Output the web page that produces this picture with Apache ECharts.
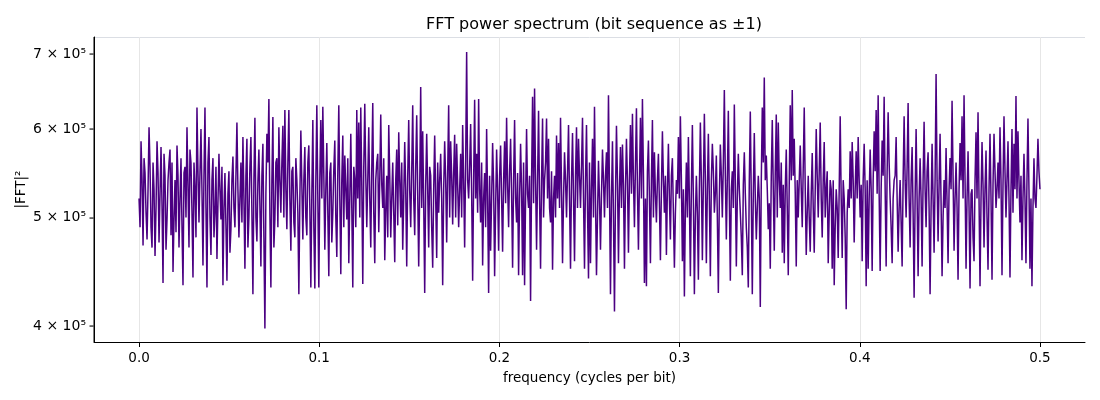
<!DOCTYPE html>
<html>
<head>
<meta charset="utf-8">
<script src="https://cdn.jsdelivr.net/npm/echarts@6/dist/echarts.min.js"></script>
<style>html,body{margin:0;padding:0;background:#fff}#c{width:1100px;height:400px}</style>
</head>
<body>
<div id="c"></div>
<script>
// |FFT|^2 values in thousands, evenly spaced frequencies from 0 to 0.5 cycles/bit
const powerK = [
520,490,585,540,472,565,548,505,478,530,602,555,490,470,560,530,462,510,585,548,
475,525,578,512,437,570,545,468,498,540,560,575,482,560,447,498,540,485,580,545,
470,520,565,490,435,548,555,500,602,535,470,575,560,505,442,560,530,480,627,550,
495,548,600,528,453,545,627,510,433,560,590,500,463,540,565,480,505,555,459,515,
570,528,498,555,435,510,548,492,439,525,550,465,488,540,567,510,490,545,608,530,
480,520,560,495,590,520,450,545,588,470,500,555,590,505,427,540,614,500,476,538,
575,512,452,545,582,480,398,525,594,560,638,505,433,540,615,470,498,560,565,490,
602,540,505,560,604,500,624,530,488,560,624,520,467,550,555,495,480,565,540,505,
427,520,598,535,478,540,578,500,482,560,580,510,433,525,611,490,432,540,630,520,
433,540,611,520,628,545,468,530,583,505,443,548,560,475,505,552,586,500,461,548,
630,520,445,540,592,490,568,530,498,565,455,520,594,510,433,555,540,490,624,520,
608,500,627,535,436,555,632,545,490,540,602,520,470,552,633,505,455,540,560,570,
485,540,618,535,510,565,458,508,545,480,605,545,480,520,560,505,456,540,575,492,
596,540,500,560,468,520,584,530,452,545,611,528,490,550,630,520,482,555,617,525,
452,530,654,510,597,515,428,535,594,530,470,555,545,490,451,530,592,520,460,560,
505,540,570,520,435,530,585,540,475,548,630,500,585,545,493,548,593,500,582,535,
490,530,570,500,605,540,470,560,703,540,520,555,606,525,439,540,637,520,570,505,
638,530,495,560,453,520,548,490,600,520,428,545,467,520,583,535,443,510,575,528,
467,545,580,520,466,540,585,515,614,535,490,550,588,525,451,540,611,520,495,548,
444,520,582,530,444,560,435,520,600,525,510,545,421,540,641,515,652,540,468,540,
623,520,450,540,613,500,540,560,613,520,588,510,495,550,449,520,545,500,592,520,
583,510,614,530,455,520,572,540,500,548,605,520,450,540,595,520,457,545,602,510,
588,545,510,555,614,520,450,540,605,510,441,560,455,530,588,500,628,520,444,500,
562,520,468,525,575,540,500,545,572,510,643,530,427,520,585,500,412,520,604,540,
455,530,578,510,581,535,450,530,588,540,465,540,605,525,619,540,490,555,626,530,
468,540,614,520,638,545,437,520,434,550,586,520,455,540,611,500,572,525,495,540,
570,515,458,530,597,540,505,545,463,530,582,520,478,545,565,505,451,505,540,525,
590,520,616,540,457,530,425,510,560,500,590,520,443,530,605,520,427,500,545,505,
440,530,608,540,458,535,619,540,455,530,594,520,443,540,582,550,505,525,568,500,
428,520,581,545,500,560,650,545,478,540,623,520,439,530,550,510,631,540,452,520,
570,530,505,480,444,535,572,525,490,470,433,540,622,520,427,525,595,520,478,510,
545,520,416,540,627,560,667,540,568,530,488,515,450,545,611,530,467,550,618,500,
608,540,510,560,465,535,455,530,575,510,444,540,630,540,650,545,588,525,452,540,
500,540,580,530,490,555,627,530,463,505,545,500,466,525,571,510,465,530,600,545,
500,550,608,520,480,540,584,500,530,550,455,505,540,530,450,540,435,490,530,510,
460,530,616,520,460,540,520,480,414,505,530,510,573,520,584,540,475,530,573,520,
590,540,500,535,457,540,582,530,434,540,450,520,575,530,448,540,597,550,624,525,
643,525,448,530,586,545,641,530,452,550,621,560,520,490,455,520,540,545,590,520,
466,510,540,495,452,540,616,540,500,555,633,520,470,540,578,505,424,520,600,520,
443,520,565,520,452,540,609,530,490,550,572,510,427,510,582,520,465,540,672,540,
476,535,594,515,443,500,540,510,577,515,455,530,565,530,636,545,467,520,560,510,
440,530,583,540,616,520,643,540,450,520,573,510,432,525,530,480,457,540,596,520,
621,520,434,520,584,535,470,530,574,500,449,530,594,520,440,535,594,550,510,530,
560,520,602,540,444,535,616,550,500,540,585,520,442,530,600,505,582,530,642,520,
597,540,495,545,458,520,570,520,455,540,613,530,450,520,434,510,565,520,510,545,
588,550,530
];
const freqTicks = [0, 0.1, 0.2, 0.3, 0.4, 0.5];
const powerTicksK = [400, 500, 600, 700];
const tickLabels = ['4 × 10⁵', '5 × 10⁵', '6 × 10⁵', '7 × 10⁵'];
const xMin = -0.025, xMax = 0.525, yMin = 387, yMax = 725;

(function () {
  const W = 1100, H = 400;
  const gridLeft = 94, gridRight = 15, gridTop = 37, gridBottom = 58;
  const data = powerK.map((v, i) => [i * 0.5 / (powerK.length - 1), v]);
  const font = 'DejaVu Sans';
  const chart = echarts.init(document.getElementById('c'), null, {renderer: 'canvas'});
  chart.setOption({
    animation: false,
    backgroundColor: '#fff',
    title: {
      text: 'FFT power spectrum (bit sequence as ±1)',
      left: 589, top: 12, textAlign: 'center',
      textStyle: {fontFamily: font, fontSize: 16, fontWeight: 'normal', color: '#000'}
    },
    grid: {left: gridLeft, right: gridRight, top: gridTop, bottom: gridBottom, containLabel: false},
    xAxis: {
      type: 'value', min: xMin, max: xMax,
      name: 'frequency (cycles per bit)', nameLocation: 'middle', nameGap: 29,
      nameTextStyle: {fontFamily: font, fontSize: 13.5, color: '#000'},
      axisLine: {show: true, onZero: false, lineStyle: {color: '#000', width: 1}},
      axisTick: {show: true, length: 5, inside: false, customValues: freqTicks, lineStyle: {color: '#000'}},
      axisLabel: {customValues: freqTicks, formatter: v => v.toFixed(1), margin: 9,
        fontFamily: font, fontSize: 13.5, color: '#000'},
      splitLine: {show: true, lineStyle: {color: '#e6e6e6', width: 1}}
    },
    yAxis: {
      type: 'log', min: yMin, max: yMax,
      name: '|FFT|²', nameLocation: 'middle', nameGap: 66, nameRotate: 90,
      nameMoveOverlap: false,
      nameTextStyle: {fontFamily: font, fontSize: 13.5, color: '#000'},
      axisLine: {show: true, onZero: false, lineStyle: {color: '#000', width: 1}},
      axisTick: {show: false},
      axisLabel: {customValues: powerTicksK, margin: 8,
        formatter: v => tickLabels[powerTicksK.indexOf(Math.round(v))] || '',
        fontFamily: font, fontSize: 14, color: '#000'}
    },
    series: [{
      type: 'line', data: data, showSymbol: false, symbol: 'none',
      sampling: null, smooth: false,
      lineStyle: {color: '#4b0082', width: 1.5},
      emphasis: {disabled: true}
    }]
  });

  // Left spine along the grid's left edge, with tick marks placed by the y scale
  const spineX = gridLeft + 0.5;
  const elements = [{
    type: 'rect', z: 1000, silent: true,
    shape: {x: gridLeft - 0.5, y: gridTop, width: 1.2, height: H - gridTop - gridBottom},
    style: {fill: '#000'}
  }];
  powerTicksK.forEach(v => {
    let py = null;
    try {
      py = chart.convertToPixel({yAxisIndex: 0}, v);
      if (Array.isArray(py)) py = py[1];
    } catch (e) { py = null; }
    if (typeof py === 'number' && isFinite(py)) {
      elements.push({
        type: 'rect', z: 1000, silent: true,
        shape: {x: gridLeft - 4.5, y: Math.round(py) - 0.5, width: 4, height: 1.1},
        style: {fill: '#000'}
      });
    }
  });
  chart.setOption({graphic: elements});
})();
</script>
</body>
</html>
